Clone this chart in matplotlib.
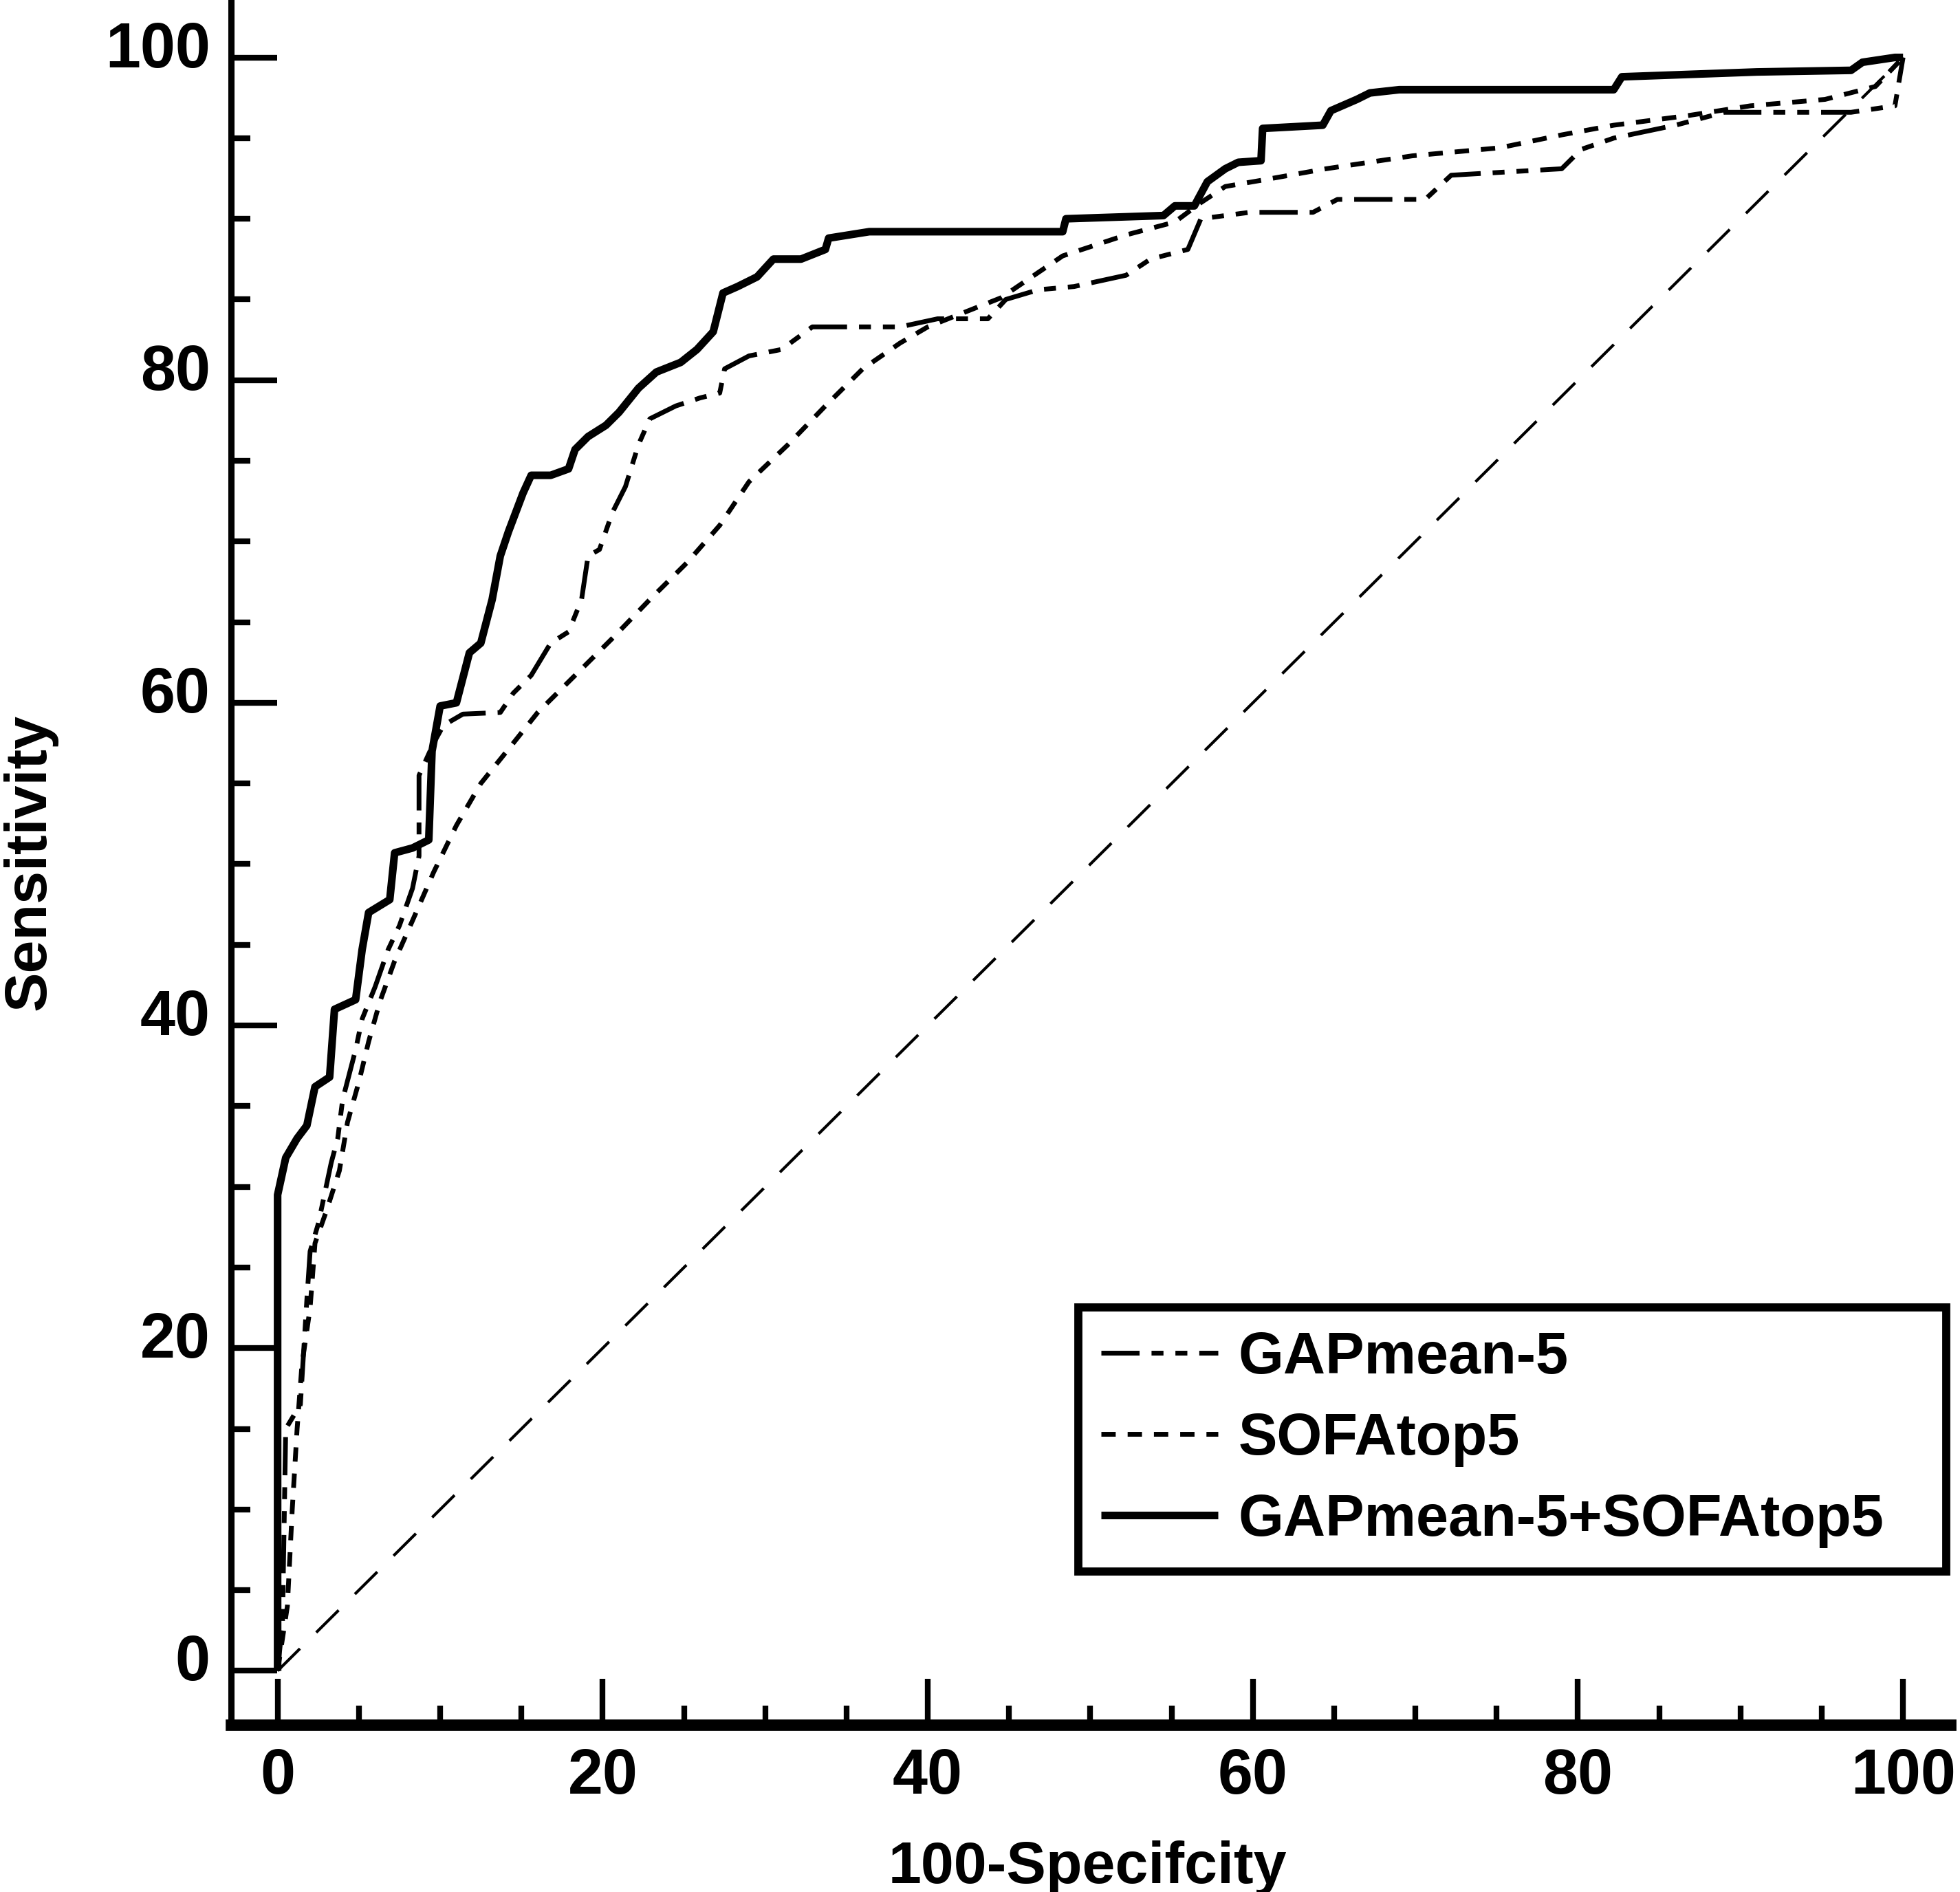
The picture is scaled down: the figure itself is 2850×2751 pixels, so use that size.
import matplotlib.pyplot as plt
from matplotlib.ticker import MultipleLocator
import matplotlib.transforms as mtransforms

# ROC curves (x = 100-Specificity, y = Sensitivity)
combined_x = [0, 0, 0.5, 1.2, 1.8, 2.3, 3.2, 3.5, 4.8, 5.2, 5.6, 6.9, 7.2, 8.3, 9.3, 9.5,
              10, 11, 11.8, 12.5, 13.2, 13.7, 14.2, 15.1, 15.6, 16.8, 17.9, 18.3, 19.1,
              20.2, 21, 22.2, 23.3, 24.8, 25.8, 26.8, 27.4, 28.3, 29.5, 30.5, 32.2, 33.7,
              33.9, 36.4, 48.3, 48.5, 54.5, 55.2, 56.4, 57.2, 58.3, 59.1, 60.5, 60.6,
              64.3, 64.8, 66.4, 67.2, 69, 82.2, 82.7, 91, 96.8, 97.5, 99.5, 100]
combined_y = [0, 29.5, 31.8, 33, 33.8, 36.2, 36.8, 41, 41.6, 44.7, 47, 47.8, 50.7, 51, 51.5, 57,
              59.8, 60, 63.1, 63.7, 66.4, 69.1, 70.6, 73, 74.1, 74.1, 74.5, 75.7, 76.5,
              77.2, 78, 79.5, 80.5, 81.1, 81.9, 83, 85.4, 85.8, 86.4, 87.5, 87.5, 88.1,
              88.8, 89.2, 89.2, 90, 90.2, 90.8, 90.8, 92.3, 93.1, 93.5, 93.6, 95.6,
              95.8, 96.7, 97.4, 97.8, 98, 98, 98.8, 99.1, 99.2, 99.7, 100, 100]

gap_x = [0, 0.3, 0.5, 1.4, 1.8, 2.0, 2.5, 3.3, 3.7, 4.0, 4.8, 5.2, 6.0, 6.8, 7.5, 8.3, 8.7,
         8.7, 9.6, 10.2, 11.4, 13.7, 14.5, 15.6, 16.8, 17.9, 18.7, 19.1, 19.8, 20.6,
         21.4, 22.2, 22.9, 24.5, 26, 27.2, 27.5, 29, 31, 32.9, 38.3, 40.6, 43.7, 44.8,
         46.8, 49, 52.2, 53.7, 56, 56.8, 59.8, 63.7, 65.2, 70.6, 72.2, 79, 80.2, 82.2,
         86, 89, 96.8, 99.5, 100]
gap_y = [0, 3, 15, 16.5, 23, 26, 27.7, 31.5, 33, 35.4, 38.5, 40.4, 42.4, 44.7, 46.2, 48.5, 50.5,
         55.5, 57.5, 58.6, 59.3, 59.4, 60.6, 61.7, 63.7, 64.4, 66.4, 69.1, 69.5, 71.8,
         73.4, 76, 77.6, 78.4, 78.9, 79.2, 80.7, 81.5, 81.9, 83.3, 83.3, 83.8, 83.8, 85,
         85.6, 85.8, 86.5, 87.5, 88.1, 90, 90.4, 90.4, 91.2, 91.2, 92.7, 93.1, 94.3, 95,
         95.8, 96.6, 96.6, 97, 100]

sofa_x = [0, 0.6, 0.9, 1.2, 1.5, 2.0, 2.3, 3.0, 3.8, 4.3, 5.0, 5.6, 6.3, 7.2, 8.3, 9.6, 11,
          12.5, 14.5, 16, 18.3, 20.6, 22.9, 25.2, 27.2, 29, 31.4, 33.7, 36, 38.3, 40,
          44.5, 48.3, 52.2, 55.2, 56.8, 58.3, 60.6, 64.5, 69.8, 75.2, 79, 82.2, 86.8,
          90.6, 95.2, 98.3, 100]
sofa_y = [0, 4, 10, 15, 19, 22.5, 26.5, 28.5, 31, 34, 36.5, 39, 41.5, 44, 46.5, 49.5, 52.4,
          55, 57.5, 59.4, 61.7, 64, 66.4, 68.7, 71, 73.7, 76, 78.4, 80.7, 82.3, 83.3,
          85.1, 87.7, 89, 89.8, 91, 92, 92.4, 93.1, 93.9, 94.4, 95.2, 95.8, 96.4,
          97, 97.4, 98.2, 100]

ref_x = [0, 100]
ref_y = [0, 100]

labels = ['GAPmean-5', 'SOFAtop5', 'GAPmean-5+SOFAtop5']

plt.rcParams['font.family'] = ['Liberation Sans', 'DejaVu Sans']
plt.rcParams['font.weight'] = 'bold'

fig = plt.figure(figsize=(28.5, 27.51), dpi=100)
ax = fig.add_axes([0.118, 0.0885, 0.877, 0.9115])

# diagonal reference line
ax.plot(ref_x, ref_y, color='black', lw=3, dashes=(11, 8))

l1, = ax.plot(gap_x, gap_y, color='black', lw=5, dashes=(8, 2.5, 2.5, 2.5, 2.5, 2.5))
l2, = ax.plot(sofa_x, sofa_y, color='black', lw=5, dashes=(3, 2.5))
l3, = ax.plot(combined_x, combined_y, color='black', lw=8, solid_capstyle='butt')

ax.set_xlim(-2.85, 102.9)
ax.set_ylim(-3.33, 103.56)

ax.spines['top'].set_visible(False)
ax.spines['right'].set_visible(False)
ax.spines['left'].set_linewidth(6.5)
ax.spines['bottom'].set_linewidth(12)

ax.xaxis.set_major_locator(MultipleLocator(20))
ax.xaxis.set_minor_locator(MultipleLocator(5))
ax.yaxis.set_major_locator(MultipleLocator(20))
ax.yaxis.set_minor_locator(MultipleLocator(5))

ax.tick_params(which='major', direction='in', length=48, width=6, labelsize=66)
ax.tick_params(which='minor', direction='in', length=20, width=6)
ax.tick_params(axis='x', which='major', pad=24)
ax.tick_params(axis='y', which='major', pad=22)

# y tick labels sit a little above their ticks in the original
shift = mtransforms.ScaledTranslation(0, 14 / 72, fig.dpi_scale_trans)
for lab in ax.get_yticklabels():
    lab.set_transform(lab.get_transform() + shift)

ax.set_xlabel('100-Specifcity', fontsize=62, fontweight='bold')
ax.xaxis.set_label_coords(0.498, -0.067)
ax.set_ylabel('Sensitivity', fontsize=62, fontweight='bold')
ax.yaxis.set_label_coords(-0.101, 0.5)

leg = fig.legend([l1, l2, l3], labels, loc='upper left',
                 bbox_to_anchor=(0.55, 0.17, 0.443, 0.139), mode='expand',
                 borderaxespad=0, fontsize=61, handlelength=2.0, handletextpad=0.35,
                 labelspacing=0.45, borderpad=0.4, fancybox=False,
                 framealpha=1, edgecolor='black')
leg.get_frame().set_linewidth(8.5)

fig.savefig('out.png', dpi=100)
